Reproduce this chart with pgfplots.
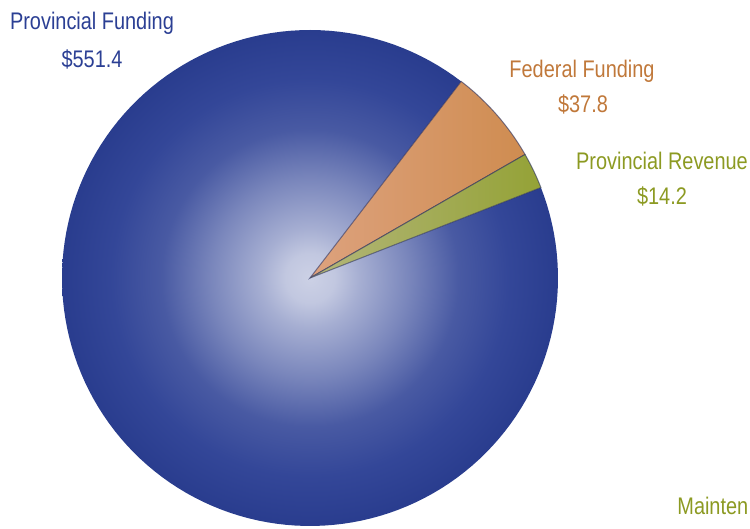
\documentclass[border=0pt]{standalone}
\usepackage{fontspec}
\setmainfont{Liberation Sans}[FakeStretch=0.83]
\usepackage{pgfplots}
\pgfplotsset{compat=1.18}

\definecolor{provblue}{HTML}{2B3F94}
\definecolor{fedorange}{HTML}{C0783A}
\definecolor{revgreen}{HTML}{8C9A22}
\definecolor{wedgeline}{HTML}{2A3060}
\definecolor{fedlight}{HTML}{DDA27E}
\definecolor{feddark}{HTML}{CF8C50}
\definecolor{revlight}{HTML}{B3B67A}
\definecolor{revdark}{HTML}{94A236}

% the shading is fitted so that the pie's radius is at 25bp
\pgfdeclareradialshading{pieshade}{\pgfpoint{0bp}{0bp}}{%
  color(0bp)=(white!76!provblue);
  color(2.5bp)=(white!71!provblue);
  color(5bp)=(white!58!provblue);
  color(10bp)=(white!37!provblue);
  color(15bp)=(white!14!provblue);
  color(20bp)=(white!4!provblue);
  color(25bp)=(provblue!96!black);
  color(50bp)=(provblue!96!black)}

% values (millions)
\pgfmathsetmacro\vProv{551.4}
\pgfmathsetmacro\vFed{37.8}
\pgfmathsetmacro\vRev{14.2}
\pgfmathsetmacro\tot{\vProv+\vFed+\vRev}
\pgfmathsetmacro\aA{21.4}
\pgfmathsetmacro\aB{\aA+\vRev/\tot*360}
\pgfmathsetmacro\aC{\aB+\vFed/\tot*360}
\pgfmathsetmacro\aD{\aC+\vProv/\tot*360}

\begin{document}
\begin{tikzpicture}[lbl/.style={anchor=base, inner sep=0pt, font=\fontsize{12}{14}\selectfont}]
\useasboundingbox (0,0) rectangle (375pt,264.5pt);
\clip (0,0) rectangle (375pt,264.5pt);
\begin{axis}[
  scale only axis, width=375pt, height=264.5pt,
  xmin=0, xmax=750, ymin=0, ymax=529,
  hide axis, clip=false]
% Provincial Funding
\addplot[draw=none, shading=pieshade, domain=\aC:\aD, samples=150, variable=\t]
  ({310+248*cos(\t)},{251+248*sin(\t)}) -- (axis cs:310,251) -- cycle;
% Federal Funding
\addplot[draw=wedgeline, draw opacity=0.6, line width=0.5pt,
  left color=fedlight, right color=feddark,
  domain=\aB:\aC, samples=30, variable=\t]
  ({310+248*cos(\t)},{251+248*sin(\t)}) -- (axis cs:310,251) -- cycle;
% Provincial Revenue
\addplot[draw=wedgeline, draw opacity=0.6, line width=0.5pt,
  left color=revlight, right color=revdark,
  domain=\aA:\aB, samples=20, variable=\t]
  ({310+248*cos(\t)},{251+248*sin(\t)}) -- (axis cs:310,251) -- cycle;

\node[lbl, text=provblue] at (axis cs:92,499) {Provincial Funding};
\node[lbl, text=provblue] at (axis cs:92,461) {\$551.4};
\node[lbl, text=fedorange] at (axis cs:582,451) {Federal Funding};
\node[lbl, text=fedorange] at (axis cs:583,416) {\$37.8};
\node[lbl, text=revgreen] at (axis cs:662,359) {Provincial Revenue};
\node[lbl, text=revgreen] at (axis cs:662,324) {\$14.2};
\node[lbl, anchor=base west, text=revgreen] at (axis cs:677,14) {Mainten};
\end{axis}
\end{tikzpicture}
\end{document}
